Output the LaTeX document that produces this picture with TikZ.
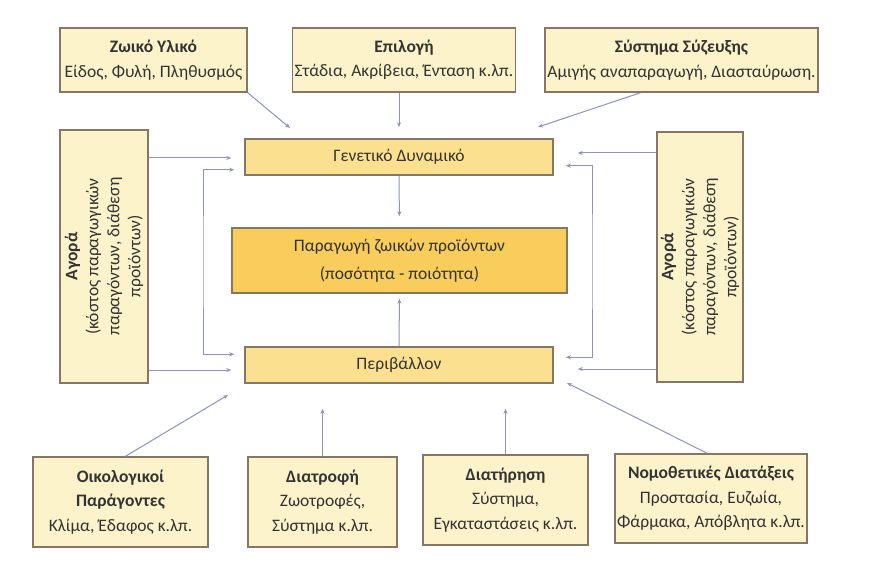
\documentclass[tikz,border=0pt]{standalone}
\usepackage{fontspec}
\setmainfont{Carlito}
\usetikzlibrary{arrows.meta,calc}
\definecolor{cream}{HTML}{FCF3CB}
\definecolor{boxline}{HTML}{857666}
\definecolor{lightgold}{HTML}{FBE08F}
\definecolor{gold}{HTML}{F8CD5C}
\definecolor{linkblue}{HTML}{8E90C9}
\tikzset{
  factor/.style={draw=boxline, fill=cream, line width=1.5pt, align=center, inner sep=2pt,
    font=\fontsize{17.5}{24.5}\selectfont, text=black!80},
  core/.style={factor, fill=lightgold},
  prod/.style={factor, fill=gold, font=\fontsize{17.5}{28}\selectfont},
  link/.style={draw=linkblue, line width=1pt, -{Stealth[length=5pt,width=4pt]}}
}
\begin{document}
\begin{tikzpicture}[x=1pt,y=-1pt]
  \useasboundingbox[fill=white] (0,0) rectangle (870,572);
  % upper factors
  \node[factor, minimum width=187, minimum height=64] (zwiko) at (153.5,60)
    {\textbf{Ζωικό Υλικό}\\Είδος, Φυλή, Πληθυσμός};
  \node[factor, minimum width=222, minimum height=64] (epilogi) at (404,60)
    {\textbf{Επιλογή}\\Στάδια, Ακρίβεια, Ένταση κ.λπ.};
  \node[factor, minimum width=273, minimum height=64] (syzeuxi) at (681.5,60)
    {\textbf{Σύστημα Σύζευξης}\\Αμιγής αναπαραγωγή, Διασταύρωση.};
  % market on both sides
  \node[factor, rotate=90, minimum width=253, minimum height=88, font=\fontsize{17.5}{21}\selectfont] (agoraL) at (104,256.5)
    {\textbf{Αγορά}\\(κόστος παραγωγικών\\παραγόντων, διάθεση\\προϊόντων)};
  \node[factor, rotate=90, minimum width=250, minimum height=86, font=\fontsize{17.5}{21}\selectfont] (agoraR) at (700,257)
    {\textbf{Αγορά}\\(κόστος παραγωγικών\\παραγόντων, διάθεση\\προϊόντων)};
  % centre column
  \node[core, minimum width=308, minimum height=36] (gen) at (399,157) {Γενετικό Δυναμικό};
  \node[prod, minimum width=335, minimum height=65] (paragogi) at (399.5,260.5)
    {Παραγωγή ζωικών προϊόντων\\(ποσότητα - ποιότητα)};
  \node[core, minimum width=308, minimum height=36] (perivallon) at (399,365) {Περιβάλλον};
  % lower factors
  \node[factor, minimum width=175, minimum height=90] (oikologikoi) at (120.5,502)
    {\textbf{Οικολογικοί}\\\textbf{Παράγοντες}\\Κλίμα, Έδαφος κ.λπ.};
  \node[factor, minimum width=149, minimum height=90] (diatrofi) at (322.5,502)
    {\textbf{Διατροφή}\\Ζωοτροφές,\\Σύστημα κ.λπ.};
  \node[factor, minimum width=165, minimum height=90] (diatirisi) at (505.5,500)
    {\textbf{Διατήρηση}\\Σύστημα,\\Εγκαταστάσεις κ.λπ.};
  \node[factor, minimum width=192, minimum height=89] (nomothesia) at (711,498.5)
    {\textbf{Νομοθετικές Διατάξεις}\\Προστασία, Ευζωία,\\Φάρμακα, Απόβλητα κ.λπ.};

  \coordinate (zwikoend) at (290,128);
  \coordinate (syzeuxiend) at (538,127);
  \coordinate (oikoend) at (228,395);
  \coordinate (nomoend) at (567,383);

  \draw[link] (zwiko.south east) -- (zwikoend);
  \draw[link, shorten >=11pt] (epilogi.south -| gen.north) -- (gen.north);
  \draw[link] ([xshift=-41pt]syzeuxi.south) -- (syzeuxiend);
  \draw[link, shorten >=13pt] ($(agoraL.south |- gen.west)+(0,1)$) -- ($(gen.west)+(0,1)$);
  \draw[link, shorten >=13pt] ($(agoraL.south |- perivallon.west)+(0,5)$) -- ($(perivallon.west)+(0,5)$);
  \draw[link, shorten >=24pt] ($(agoraR.north |- gen.east)+(0,-4)$) -- ($(gen.east)+(0,-4)$);
  \draw[link, shorten >=24pt] ($(agoraR.north |- perivallon.east)+(0,4)$) -- ($(perivallon.east)+(0,4)$);
  \draw[link, {Stealth[length=5pt,width=4pt]}-{Stealth[length=5pt,width=4pt]}]
    ($(gen.south west)+(-10,-6)$) -| (203,262) |- ($(perivallon.north west)+(-10,8)$);
  \draw[link, {Stealth[length=5pt,width=4pt]}-{Stealth[length=5pt,width=4pt]}]
    ($(gen.south east)+(12,-10)$) -| (592,262) |- ($(perivallon.north east)+(12,11)$);
  \draw[link, shorten >=11pt] (gen.south) -- (paragogi.north);
  \draw[link, shorten >=5pt] (perivallon.north) -- (paragogi.south);
  \draw[link] ([xshift=5pt]oikologikoi.north) -- (oikoend);
  \draw[link, shorten >=25pt] (diatrofi.north) -- (diatrofi.north |- perivallon.south);
  \draw[link, shorten >=25pt] (diatirisi.north) -- (diatirisi.north |- perivallon.south);
  \draw[link] ([xshift=-4pt]nomothesia.north) -- (nomoend);
\end{tikzpicture}
\end{document}
